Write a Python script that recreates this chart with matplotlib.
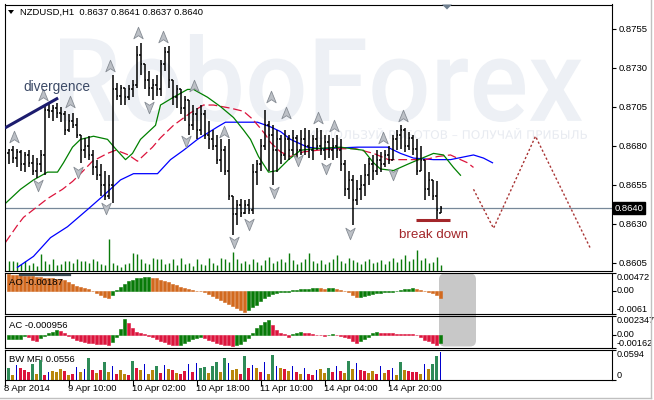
import numpy as np
import matplotlib
matplotlib.use('Agg')
import matplotlib.pyplot as plt
from matplotlib.path import Path
from matplotlib.patches import PathPatch, FancyBboxPatch, Polygon
from matplotlib.textpath import TextPath
from matplotlib.font_manager import FontProperties
from matplotlib.transforms import Affine2D, blended_transform_factory
from matplotlib.lines import Line2D

plt.rcParams['font.family'] = ['Liberation Sans', 'DejaVu Sans']

# ---------------- DATA ----------------
symbol = "NZDUSD,H1"
highs = [.8678, .8680, .8678, .8677, .8676, .8677, .8674, .8672, .8677, .8706,
         .8707, .8706, .8707, .8705, .8702, .8700, .8701, .8698, .8687, .8685,
         .8686, .8677, .8671, .8668, .8664, .8661, .8725, .8720, .8719, .8717,
         .8719, .8722, .8744, .8746, .8732, .8728, .8723, .8725, .8735, .8743,
         .8744, .8722, .8719, .8716, .8712, .8709, .8706, .8704, .8706, .8703,
         .8696, .8690, .8687, .8684, .8680, .8684, .8648, .8645, .8646, .8645,
         .8646, .8668, .8671, .8684, .8703, .8696, .8693, .8690, .8687, .8690,
         .8687, .8690, .8687, .8690, .8691, .8690, .8687, .8691, .8690, .8687,
         .8687, .8685, .8687, .8684, .8671, .8664, .8661, .8658, .8661, .8668,
         .8672, .8674, .8677, .8676, .8677, .8680, .8687, .8690, .8693, .8691,
         .8689, .8687, .8684, .8680, .8666, .8663, .8658, .8657, .8641]
lows = [.8668, .8669, .8666, .8664, .8663, .8666, .8661, .8659, .8663, .8661,
        .8698, .8696, .8698, .8695, .8687, .8689, .8691, .8685, .8669, .8672,
        .8671, .8661, .8658, .8648, .8645, .8646, .8643, .8709, .8706, .8706,
        .8709, .8711, .8717, .8725, .8716, .8712, .8709, .8712, .8712, .8728,
        .8717, .8706, .8704, .8700, .8696, .8687, .8690, .8684, .8687, .8684,
        .8678, .8677, .8668, .8663, .8661, .8645, .8623, .8629, .8634, .8636,
        .8636, .8636, .8655, .8664, .8677, .8664, .8655, .8663, .8668, .8671,
        .8671, .8674, .8672, .8674, .8674, .8672, .8671, .8677, .8674, .8671,
        .8672, .8671, .8672, .8664, .8648, .8646, .8629, .8642, .8645, .8648,
        .8655, .8658, .8661, .8663, .8666, .8668, .8671, .8677, .8678, .8676,
        .8677, .8674, .8661, .8664, .8645, .8648, .8645, .8632, .8637]
opens = [.8675, .8677, .8672, .8676, .8668, .8674, .8669, .8664, .8668, .8674,
         .8703, .8702, .8704, .8701, .8700, .8690, .8696, .8693, .8687, .8677,
         .8680, .8674, .8666, .8661, .8655, .8648, .8655, .8716, .8712, .8717,
         .8711, .8716, .8719, .8738, .8732, .8722, .8717, .8719, .8716, .8732,
         .8740, .8722, .8711, .8716, .8704, .8709, .8693, .8700, .8690, .8700,
         .8687, .8684, .8680, .8671, .8677, .8664, .8648, .8636, .8642, .8637,
         .8642, .8639, .8663, .8668, .8680, .8693, .8687, .8677, .8684, .8674,
         .8684, .8677, .8685, .8677, .8684, .8680, .8677, .8684, .8680, .8677,
         .8682, .8677, .8680, .8677, .8668, .8652, .8658, .8645, .8652, .8655,
         .8661, .8668, .8664, .8671, .8668, .8674, .8671, .8684, .8687, .8690,
         .8680, .8685, .8678, .8664, .8671, .8652, .8658, .8648, .8637]
closes = [.8677, .8672, .8676, .8668, .8674, .8669, .8664, .8668, .8674, .8703,
          .8702, .8704, .8701, .8700, .8690, .8696, .8693, .8687, .8677, .8680,
          .8674, .8666, .8661, .8655, .8648, .8655, .8716, .8712, .8717, .8711,
          .8716, .8719, .8738, .8732, .8722, .8717, .8719, .8716, .8732, .8740,
          .8722, .8711, .8716, .8704, .8709, .8693, .8700, .8690, .8700, .8687,
          .8684, .8680, .8671, .8677, .8664, .8648, .8636, .8642, .8637, .8642,
          .8639, .8663, .8668, .8680, .8693, .8687, .8677, .8684, .8674, .8684,
          .8677, .8685, .8677, .8684, .8680, .8677, .8684, .8680, .8677, .8682,
          .8677, .8680, .8677, .8668, .8652, .8658, .8645, .8652, .8655, .8661,
          .8668, .8664, .8671, .8668, .8674, .8671, .8684, .8687, .8690, .8680,
          .8685, .8678, .8664, .8671, .8652, .8658, .8648, .8639, .8640]
volumes = [1000, 1000, 900, 700, 1000, 600, 800, 500, 1700, 1000,
           700, 1200, 600, 700, 1000, 1000, 800, 1200, 1000, 1000,
           800, 1200, 1000, 700, 600, 3200, 800, 600, 400, 700,
           800, 1800, 1700, 1200, 800, 700, 1300, 1200, 1200, 700,
           800, 1200, 600, 1300, 700, 800, 500, 1200, 700, 600,
           1300, 800, 600, 1300, 1200, 900, 1900, 1200, 800, 1000,
           700, 1200, 900, 600, 1100, 1400, 800, 1000, 1200, 900,
           1800, 1100, 700, 900, 1200, 1800, 1000, 800, 1100, 700,
           900, 1200, 1600, 1000, 800, 1300, 1100, 900, 700, 1000,
           1200, 800, 900, 1100, 700, 1000, 1300, 900, 1200, 1600,
           1000, 1200, 2100, 1100, 1300, 800, 900, 1400, 600]

price_ticks = [0.8605, 0.8630, 0.8655, 0.8680, 0.8705, 0.8730, 0.8755]

# Alligator lines (bar index, price)
jaw_x = [2.25, 6.25, 10.5, 14.75, 19.75, 23.75, 28, 31.25, 37.25, 40.5, 43.75, 47.25, 49.75,
         52.25, 54.25, 58, 62.25, 65.5, 68, 70.5, 74.75, 78, 87.25, 94.75, 98, 101.25, 106.25,
         110.5, 116.25, 118.75, 121]
jaw_y = [.8602, .8609, .8621, .8628, .8639, .8648, .8658, .8662, .8662, .8671, .8677, .8684, .8688,
         .8692, .8695, .8695, .8695, .8692, .8689, .8684, .8679, .8678, .8679, .8679, .8675, .8672, .8671,
         .8671, .8674, .8672, .8669]
teeth_x = [-0.75, 2.25, 3.75, 7.25, 9.75, 13.5, 16, 18, 21, 24.75, 26.75, 28, 30, 32.25, 36, 38,
           41.25, 45.5, 48.75, 51.25, 55.5, 58.75, 61, 63, 64.25, 65.5, 68, 70.5, 73.75, 77.25,
           81.75, 86.75, 91.25, 95, 99.75, 104.25, 107.25, 110.5, 113, 114.75, 116.25]
teeth_y = [.8618, .8629, .8634, .8641, .8646, .8652, .8657, .8662, .8670, .8675, .8677, .8676, .8674,
           .8670, .8679, .8685, .8693, .8701, .8706, .8706, .8704, .8702, .8697, .8691, .8687, .8682,
           .8676, .8673, .8676, .8677, .8678, .8678, .8675, .8671, .8671, .8671, .8673, .8674, .8671,
           .8669, .8666]
lips_x = [-0.75, 3, 6.25, 9.75, 12.25, 13.75, 16, 18, 21.25, 24.75, 26.75, 29.25, 31, 33, 36.75,
          38, 41.25, 44.75, 46.25, 49.75, 53, 56.25, 58.75, 60.5, 62.5, 65, 67.25, 70, 73, 76.25,
          83, 88.75, 91.25, 93, 96.25, 99.75, 102.5, 106.25, 108.75, 111.25, 113]
lips_y = [.8643, .8652, .8658, .8663, .8663, .8669, .8679, .8684, .8686, .8684, .8678, .8671, .8675,
          .8684, .8693, .8706, .8711, .8716, .8716, .8711, .8705, .8698, .8690, .8684, .8673, .8663,
          .8664, .8671, .8677, .8678, .8679, .8677, .8669, .8665, .8664, .8668, .8671, .8675, .8674,
          .8666, .8661]

# Fractals
up_x = [1.25, 8.5, 15.25, 25.25, 32.25, 38.5, 46.25, 53.75, 65.5, 69.25, 77.25, 81.25, 93.5, 98.5]
up_y = [.86855, .87124, .8708, .8731, .8752, .87496, .8718, .86887, .8711, .8701, .8698, .86926, .8685, .8699]
dn_x = [7.25, 17.25, 24.25, 35, 44.25, 56.25, 60, 66.25, 72.25, 79.25, 85.25, 96]
dn_y = [.86547, .8663, .8640, .87047, .8683, .86182, .8630, .8650, .8671, .86656, .8624, .8662]

# Annotations
div_x, div_y = [-0.9, 12.4], [0.86913, 0.87105]
brk_x, brk_y = [101.9, 110.4], [0.8632, 0.8632]
fc_x = [116.25, 121.25, 131.75, 145.5]
fc_y = [0.8652, 0.8627, 0.8686, 0.8614]

# AO / AC / BW MFI
ao = [0.0044, 0.0043, 0.0042, 0.0041, 0.0040, 0.0039, 0.0038, 0.0037, 0.0036, 0.0035,
      0.0034, 0.0033, 0.0032, 0.0031, 0.0030, 0.0024, 0.0018, 0.0014, 0.0011, 0.0008,
      0.0005, -0.0001, -0.0006, -0.0011, -0.0015, -0.0018, -0.0010, 0.0003, 0.0010, 0.0018,
      0.0025, 0.0030, 0.0033, 0.0035, 0.0036, 0.00365, 0.0035, 0.0033, 0.0030, 0.0027,
      0.0023, 0.0019, 0.0015, 0.0011, 0.0007, 0.0004, 0.0002, 0.0001, -0.0001, -0.0004,
      -0.0008, -0.0013, -0.0018, -0.0023, -0.0029, -0.0035, -0.0040, -0.0045, -0.0050, -0.0055,
      -0.0050, -0.0043, -0.0036, -0.0028, -0.0020, -0.0013, -0.0009, -0.0006, -0.0004, -0.0003,
      -0.0002, 0.0002, 0.0003, 0.0004, 0.0005, 0.0006, 0.0007, 0.0008, 0.0007, 0.0006,
      0.0007, 0.0008, 0.0005, 0.0003, 0.0001, -0.0002, -0.0010, -0.0016, -0.0015, -0.0013,
      -0.0010, -0.0008, -0.0006, -0.0005, -0.0004, -0.0003, -0.0002, -0.0001, 0.0002, 0.0004,
      0.0006, 0.0007, 0.0005, 0.0003, 0.0001, -0.0002, -0.0006, -0.0012, -0.00187]
ac = [-0.00055, -0.00050, -0.00048, -0.00045, -0.00015, -0.0003, -0.0006, -0.0008, -0.0004, -0.0001,
      0.0002, 0.0004, 0.0006, 0.0005, 0.0002, -0.0001, -0.0004, -0.0006, -0.0008, -0.0009,
      -0.0010, -0.00105, -0.0011, -0.00113, -0.00115, -0.0012, -0.0009, -0.0002, 0.0007, 0.0020,
      0.0015, 0.0009, 0.0004, 0.0002, 0.0001, -0.0001, -0.0003, -0.0005, -0.0007, -0.0009,
      -0.0011, -0.0012, -0.00125, -0.0012, -0.0010, -0.0007, -0.0005, -0.0004, -0.0003, -0.0004,
      -0.0006, -0.0008, -0.0010, -0.0011, -0.0012, -0.0013, -0.00135, -0.0013, -0.0011, -0.0008,
      -0.0004, 0.0002, 0.0008, 0.0012, 0.0016, 0.0018, 0.0012, 0.0006, 0.0003, 0.0001,
      -0.0002, 0.0001, 0.0003, 0.0004, 0.0003, 0.0002, 0.0001, 0.00005, 0.0, -0.0001,
      0.0000, 0.0001, 0.0000, -0.0001, -0.0002, -0.0004, -0.0007, -0.0010, -0.0008, -0.0005,
      -0.0003, 0.0002, 0.0004, 0.0003, 0.00025, 0.0002, 0.00018, 0.00015, 0.00012, 0.0001,
      0.0001, 0.00008, 0.0000, -0.0003, -0.0006, -0.0008, -0.0010, -0.0012, -0.000956]
mfi = [0.0238, 0.0099, 0.0297, 0.0238, 0.0198, 0.0158, 0.0317, 0.0119, 0.0396, 0.0099,
       0.0158, 0.0178, 0.0158, 0.0218, 0.0178, 0.0099, 0.0119, 0.0257, 0.0158, 0.0218,
       0.0436, 0.0198, 0.0139, 0.0198, 0.0356, 0.0158, 0.0277, 0.0119, 0.0198, 0.0119,
       0.0099, 0.0376, 0.0238, 0.0198, 0.0317, 0.0119, 0.0198, 0.0277, 0.0139, 0.0297,
       0.0218, 0.0198, 0.0139, 0.0119, 0.0178, 0.0317, 0.0158, 0.0337, 0.0238, 0.0257,
       0.0139, 0.0277, 0.0356, 0.0158, 0.0436, 0.0337, 0.0198, 0.0218, 0.0119, 0.0475,
       0.0238, 0.0297, 0.0238, 0.0158, 0.0356, 0.0119, 0.0495, 0.0277, 0.0238, 0.0218,
       0.0178, 0.0277, 0.0158, 0.0119, 0.0238, 0.0119, 0.0099, 0.0198, 0.0218, 0.0139,
       0.0238, 0.0158, 0.0277, 0.0178, 0.0139, 0.0376, 0.0218, 0.0337, 0.0198, 0.0178,
       0.0139, 0.0178, 0.0119, 0.0277, 0.0139, 0.0198, 0.0238, 0.0099, 0.0356, 0.0198,
       0.0178, 0.0158, 0.0158, 0.0119, 0.0317, 0.0218, 0.0317, 0.0475, 0.0556]
mfi_codes = ("GBLRRRGBGR" "LBBBRBRLBL" "GRBRGBLRBB" "RGRBLBBGRL" "BRBRRLRLGG"
             "BGGBGLBBRG" "RLBRLBGLBR" "BLRBLRRLBB" "GRLRBGBLRR" "BBRLBRLBGB" "RRRBLBGGL")

ao_ticks = [0.00472, 0.0, -0.0061]
ao_tick_labels = ['0.00472', '0.00', '-0.0061']
ac_ticks = [0.002347, 0.0, -0.00162]
ac_tick_labels = ['0.002347', '0.00', '-0.00162']
mfi_ticks = [0.0594, 0.0]
mfi_tick_labels = ['0.0594', '0']

time_pos = [-1, 15, 31, 47, 63, 79, 95]
time_labels = ['8 Apr 2014', '9 Apr 10:00', '10 Apr 02:00', '10 Apr 18:00',
               '11 Apr 10:00', '14 Apr 04:00', '14 Apr 20:00']

# ---------------- FIGURE ----------------
W, H = 654, 400
fig = plt.figure(figsize=(W / 100, H / 100), dpi=100)
fig.patch.set_facecolor('white')
PX = Affine2D().scale(1 / W, -1 / H).translate(0, 1) + fig.transFigure
FS = 6.8


def px_axes(x0, y0, x1, y1):
    a = fig.add_axes([x0 / W, 1 - y1 / H, (x1 - x0) / W, (y1 - y0) / H])
    a.patch.set_visible(False)
    for s in a.spines.values():
        s.set_linewidth(0.8)
        s.set_color('black')
    return a


def stretched_text(s, prop, box, color, z):
    tp = TextPath((0, 0), s, size=100, prop=prop)
    ext = tp.get_extents()
    x0, y0, x1, y1 = box
    tr = (Affine2D().translate(-ext.x0, -ext.y0)
          .scale((x1 - x0) / ext.width, -(y1 - y0) / ext.height).translate(x0, y1))
    patch = PathPatch(tr.transform_path(tp), facecolor=color, edgecolor='none',
                      transform=PX, zorder=z)
    fig.add_artist(patch)


# watermark
stretched_text("RoboForex", FontProperties(family="Roboto", weight="medium"),
               (60, 34, 582, 122), '#edf0f5', -3)
stretched_text("ИСПОЛЬЗУЙ РОБОТОВ – ПОЛУЧАЙ ПРИБЫЛЬ", FontProperties(family="DejaVu Sans"),
               (308, 128, 587, 139), '#e8ebf1', -3)

XL = (-1.0, 150.875)
idx = np.arange(len(closes))

# volume axes (under price)
axv = px_axes(4.5, 4.5, 612, 271)
axv.set_xlim(*XL)
axv.set_ylim(0, 26650)
axv.vlines(idx, 0, volumes, color='#0a7a0a', lw=1.0)
axv.set_xticks([])
axv.set_yticks([])
for s in axv.spines.values():
    s.set_visible(False)

ax = px_axes(4.5, 4.5, 612, 271)
ax.set_zorder(axv.get_zorder() + 1)
ax.set_xlim(*XL)
ax.set_ylim(0.859962, 0.877044)

o = np.array(opens); h = np.array(highs); l = np.array(lows); c = np.array(closes)
ax.vlines(idx, np.minimum(l, np.minimum(o, c)), np.maximum(h, np.maximum(o, c)),
          color='black', lw=1.1, zorder=3)
ax.hlines(o, idx - 0.45, idx, color='black', lw=1.1, zorder=3)
ax.hlines(c, idx, idx + 0.45, color='black', lw=1.1, zorder=3)

ax.axhline(closes[-1], color='#778899', lw=0.9, zorder=2)

ax.plot(jaw_x, jaw_y, color='#0000ff', lw=0.9, zorder=2)
ax.plot(teeth_x, teeth_y, color='#dc143c', lw=0.9, zorder=2, dashes=(7, 3))
ax.plot(lips_x, lips_y, color='#008000', lw=0.9, zorder=2)

up_marker = Path([(0, 1), (0.75, -0.85), (0, -0.35), (-0.75, -0.85), (0, 1)],
                 [Path.MOVETO, Path.LINETO, Path.LINETO, Path.LINETO, Path.CLOSEPOLY])
dn_marker = Path([(0, -1), (0.75, 0.85), (0, 0.35), (-0.75, 0.85), (0, -1)],
                 [Path.MOVETO, Path.LINETO, Path.LINETO, Path.LINETO, Path.CLOSEPOLY])
ax.plot(up_x, up_y, ls='none', marker=up_marker, ms=9, mfc='#bcc0c6', mec='#868c94',
        mew=0.6, zorder=4)
ax.plot(dn_x, dn_y, ls='none', marker=dn_marker, ms=9, mfc='#bcc0c6', mec='#868c94',
        mew=0.6, zorder=4)

ax.plot(div_x, div_y, color='#1c1c6e', lw=2.2, solid_capstyle='butt', zorder=5)
ax.text(3.6, 0.87176, 'divergence', fontsize=9.8, color='#3c4a66', ha='left', va='center',
        zorder=5)
ax.plot(brk_x, brk_y, color='#a3262a', lw=2.2, solid_capstyle='butt', zorder=5)
ax.text(97.6, 0.86227, 'break down', fontsize=9.6, color='#a3262a', ha='left', va='center',
        zorder=5)
ax.plot(fc_x, fc_y, color='#a83232', lw=1.0, dashes=(1.6, 1.6), zorder=5)

ax.set_xticks([])
ax.yaxis.tick_right()
ax.set_yticks(price_ticks)
ax.set_yticklabels([f'{v:.4f}' for v in price_ticks], fontsize=FS)
ax.tick_params(axis='y', direction='out', length=3, width=0.8, pad=2)
ax.text(1.0045, closes[-1], f'{closes[-1]:.4f}',
        transform=blended_transform_factory(ax.transAxes, ax.transData),
        fontsize=FS, color='white', ha='left', va='center', zorder=10,
        bbox=dict(boxstyle='square,pad=0.18', fc='black', ec='black'))

SFS = 6.6


# sub panels
def sub_panel(y0, y1, lim, ticks, labels):
    a = px_axes(4.5, y0, 612, y1)
    a.set_xlim(*XL)
    a.set_ylim(*lim)
    a.yaxis.tick_right()
    a.set_yticks(ticks)
    a.set_yticklabels([])
    a.tick_params(axis='y', direction='out', length=3, width=0.8)
    tr = blended_transform_factory(a.transAxes, a.transData)
    for i, (t, s) in enumerate(zip(ticks, labels)):
        if i == 0:
            va = 'top'
        elif i == len(ticks) - 1:
            va = 'bottom'
        else:
            va = 'center'
        a.text(1.0068, t, s, transform=tr, fontsize=SFS, ha='left', va=va)
    return a


axao = sub_panel(273, 314, (-0.0061, 0.00472), ao_ticks, ao_tick_labels)
axao.set_xticks([])
ao_a = np.array(ao)
ao_col = ['#d2691e'] + ['#087a08' if ao_a[i] > ao_a[i - 1] else '#d2691e' for i in range(1, len(ao_a))]
axao.bar(idx, ao_a, width=0.75, color=ao_col, edgecolor=ao_col, lw=0.4, zorder=2)
axao.text(0.008, 0.76, f'AO {ao[-1]:.5f}', fontsize=FS, ha='left', va='center', zorder=3,
          transform=axao.transAxes)
fig.add_artist(Line2D([20, 70], [275.2, 275.2], color='#3b4b55', lw=1.6, transform=PX, zorder=3))

axac = sub_panel(316, 348, (-0.00162, 0.002347), ac_ticks, ac_tick_labels)
axac.set_xticks([])
ac_a = np.array(ac)
ac_col = ['#087a08'] + ['#087a08' if ac_a[i] > ac_a[i - 1] else '#dc143c' for i in range(1, len(ac_a))]
axac.bar(idx, ac_a, width=0.75, color=ac_col, edgecolor=ac_col, lw=0.4, zorder=2)
axac.text(0.008, 0.70, f'AC {ac[-1]:.6f}', fontsize=FS, ha='left', va='center',
          transform=axac.transAxes, zorder=1)

axmf = sub_panel(350, 380, (0, 0.0594), mfi_ticks, mfi_tick_labels)
cmap = {'G': '#2e8b57', 'B': '#b8860b', 'R': '#dc143c', 'L': '#0000cd'}
m_a = np.array(mfi)
for code in 'GBRL':
    sel = np.array([ch == code for ch in mfi_codes])
    wdt = 0.22 if code == 'L' else 0.75
    axmf.bar(idx[sel], m_a[sel], width=wdt, color=cmap[code], lw=0, zorder=2)
axmf.text(0.008, 0.70, f'BW MFI {mfi[-1]:.4f}', fontsize=FS, ha='left', va='center',
          transform=axmf.transAxes, zorder=1)
axmf.set_xticks(time_pos)
axmf.set_xticklabels([])
axmf.tick_params(axis='x', direction='out', length=4, width=0.8)
trx = blended_transform_factory(axmf.transData, axmf.transAxes)
for p, s in zip(time_pos, time_labels):
    axmf.text(p - 0.2, -0.27, s, transform=trx, fontsize=FS, ha='left', va='center')

# grey rounded box over indicator panels
fig.add_artist(FancyBboxPatch((439, 273.5), 37, 73, boxstyle='round,pad=0,rounding_size=6',
                              fc='#c8c8c8', ec='none', transform=PX, zorder=-1))

# header
fig.add_artist(Polygon([(8, 10), (14, 10), (11, 14)], closed=True, fc='black', ec='none',
                       transform=PX, zorder=5))
fig.text(20 / W, 1 - 12 / H,
         f'{symbol}  {opens[-1]:.4f} {highs[-1]:.4f} {lows[-1]:.4f} {closes[-1]:.4f}',
         fontsize=FS, ha='left', va='center')
# chart shift marker
fig.add_artist(Polygon([(442, 4.5), (452, 4.5), (447, 9.5)], closed=True, fc='#6f7f8f',
                       ec='none', transform=PX, zorder=5))
# outer frame
fig.add_artist(Line2D([651, 651], [0, 398], color='#c0c0c0', lw=1, transform=PX))
fig.add_artist(Line2D([0, 651], [398, 398], color='#c0c0c0', lw=1, transform=PX))

fig.savefig('out.png', dpi=100, facecolor='white')
